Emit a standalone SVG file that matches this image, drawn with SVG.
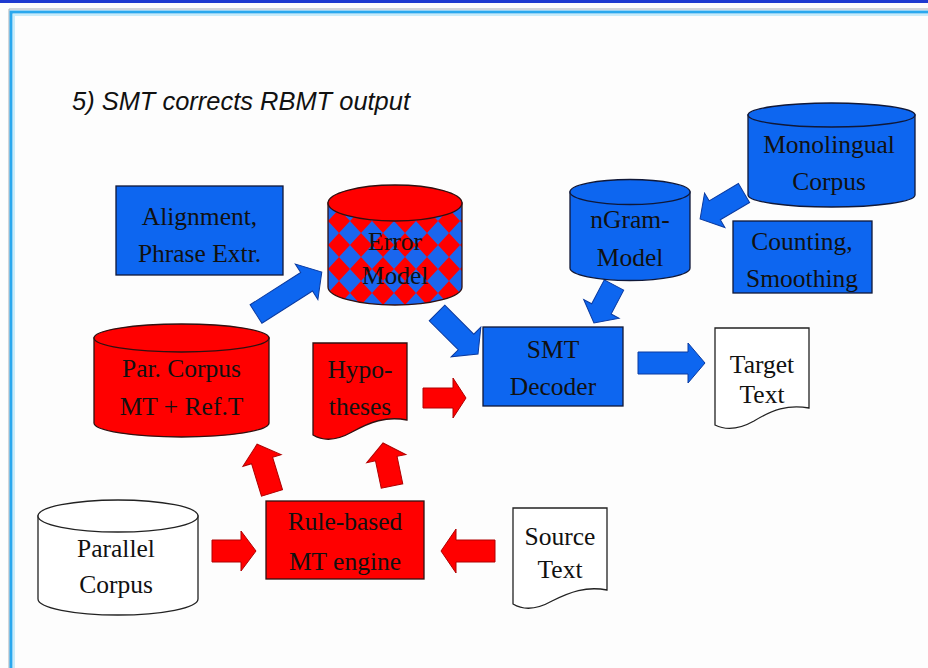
<svg xmlns="http://www.w3.org/2000/svg" width="928" height="668" viewBox="0 0 928 668">
<style>
.t{font-family:"Liberation Serif","Times New Roman",serif;font-size:25.5px;fill:#111;text-anchor:middle}
.blue{fill:#0d66f0;stroke:#101838;stroke-width:1.3}
.red{fill:#ff0000;stroke:#301010;stroke-width:1.3}
.white{fill:#ffffff;stroke:#222;stroke-width:1.3}
.ab{fill:#0d66f0;stroke:#0a3aa0;stroke-width:1}
.ar{fill:#ff0000;stroke:#b00000;stroke-width:1}
</style>
<defs>
<pattern id="dia" patternUnits="userSpaceOnUse" width="22" height="24" x="328" y="185">
<rect width="22" height="24" fill="#1a66ee"/>
<path d="M11,0 L22,12 L11,24 L0,12 Z" fill="#ff0000"/>
</pattern>
</defs>
<rect width="928" height="668" fill="#fdfdfd"/>
<rect x="0" y="0" width="928" height="3" fill="#1e3ad0"/>
<path d="M9,668 V9 H928" fill="none" stroke="#a8b0b8" stroke-width="1"/>
<path d="M11,668 V12 H928" fill="none" stroke="#2aa8ee" stroke-width="3"/>
<path d="M14,668 V15 H928" fill="none" stroke="#c8ecfa" stroke-width="2"/>
<text x="72" y="110" font-family="Liberation Sans, Arial, sans-serif" font-style="italic" font-size="25" textLength="338" lengthAdjust="spacingAndGlyphs" fill="#111">5) SMT corrects RBMT output</text>

<g id="connectors">
<path class="ar" transform="translate(212,551)" d="M0,-11 H29 V-20 L44,0 L29,20 V11 H0 Z"/>
<path class="ar" transform="translate(495,551) rotate(180)" d="M0,-11 H39 V-22 L54,0 L39,22 V11 H0 Z"/>
<path class="ar" transform="translate(272,493) rotate(-107)" d="M0,-11 H34 V-20 L51,0 L34,20 V11 H0 Z"/>
<path class="ar" transform="translate(392,486) rotate(-101.8)" d="M0,-11 H28 V-20 L44,0 L28,20 V11 H0 Z"/>
<path class="ar" transform="translate(423,398)" d="M0,-10 H30 V-20 L43,0 L30,20 V10 H0 Z"/>
<path class="ab" transform="translate(437,313) rotate(45)" d="M0,-11 H41 V-21 L58,0 L41,21 V11 H0 Z"/>
<path class="ab" transform="translate(614,285) rotate(117.8)" d="M0,-11 H27 V-20 L43,0 L27,20 V11 H0 Z"/>
<path class="ab" transform="translate(744,193) rotate(149.4)" d="M0,-11 H34 V-20 L51,0 L34,20 V11 H0 Z"/>
<path class="ab" transform="translate(638,363)" d="M0,-11 H50 V-20 L67,0 L50,20 V11 H0 Z"/>
<path class="ab" transform="translate(256,314) rotate(-32.5)" d="M0,-11 H60 V-21 L78,0 L60,21 V11 H0 Z"/>
</g>

<g id="alignment">
<rect class="blue" x="116" y="186" width="167" height="89"/>
<text class="t" x="199.5" y="225">Alignment,</text>
<text class="t" x="199.5" y="262">Phrase Extr.</text>
</g>

<g id="error-model">
<path d="M328,203 V287 A67,18 0 0 0 462,287 V203 Z" fill="url(#dia)" stroke="#301010" stroke-width="1.3"/>
<ellipse class="red" cx="395" cy="203" rx="67" ry="18"/>
<text class="t" x="395" y="250">Error</text>
<text class="t" x="395" y="284">Model</text>
</g>

<g id="par-corpus">
<path class="red" d="M94,338 V423 A87.5,14 0 0 0 269,423 V338 Z"/>
<ellipse class="red" cx="181.5" cy="338" rx="87.5" ry="14"/>
<text class="t" x="181.5" y="377">Par. Corpus</text>
<text class="t" x="181.5" y="415">MT + Ref.T</text>
</g>

<g id="ngram-model">
<path class="blue" d="M570,192 V268 A60,12.5 0 0 0 690,268 V192 Z"/>
<ellipse class="blue" cx="630" cy="192" rx="60" ry="12.5"/>
<text class="t" x="630" y="228">nGram-</text>
<text class="t" x="630" y="266">Model</text>
</g>

<g id="monolingual-corpus">
<path class="blue" d="M748,115 V195 A83.5,12 0 0 0 915,195 V115 Z"/>
<ellipse class="blue" cx="831.5" cy="115" rx="83.5" ry="12"/>
<text class="t" x="829" y="153">Monolingual</text>
<text class="t" x="829" y="190">Corpus</text>
</g>

<g id="counting-smoothing">
<rect class="blue" x="733" y="221" width="139" height="72"/>
<text class="t" x="802" y="250">Counting,</text>
<text class="t" x="802" y="287">Smoothing</text>
</g>

<g id="smt-decoder">
<rect class="blue" x="483" y="327" width="140" height="79"/>
<text class="t" x="553" y="358">SMT</text>
<text class="t" x="553" y="395">Decoder</text>
</g>

<g id="target-text">
<path class="white" d="M715,328 H809 V408 C788,404 772,410 754,421 C738,430 725,430 715,425 Z"/>
<text class="t" x="762" y="373">Target</text>
<text class="t" x="762" y="403">Text</text>
</g>

<g id="hypotheses">
<path class="red" d="M313,343 H407 V420 C386,416 370,422 352,432 C336,441 323,441 313,435 Z"/>
<text class="t" x="360" y="378">Hypo-</text>
<text class="t" x="360" y="415">theses</text>
</g>

<g id="rule-based">
<rect class="red" x="266" y="501" width="158" height="78"/>
<text class="t" x="345" y="530">Rule-based</text>
<text class="t" x="345" y="570">MT engine</text>
</g>

<g id="source-text">
<path class="white" d="M513,508 H607 V590 C586,586 570,592 552,601 C536,610 523,610 513,604 Z"/>
<text class="t" x="560" y="545">Source</text>
<text class="t" x="560" y="578">Text</text>
</g>

<g id="parallel-corpus">
<path class="white" d="M38,516 V599 A80,16 0 0 0 198,599 V516 Z"/>
<ellipse class="white" cx="118" cy="516" rx="80" ry="16"/>
<text class="t" x="116" y="557">Parallel</text>
<text class="t" x="116" y="593">Corpus</text>
</g>
</svg>
